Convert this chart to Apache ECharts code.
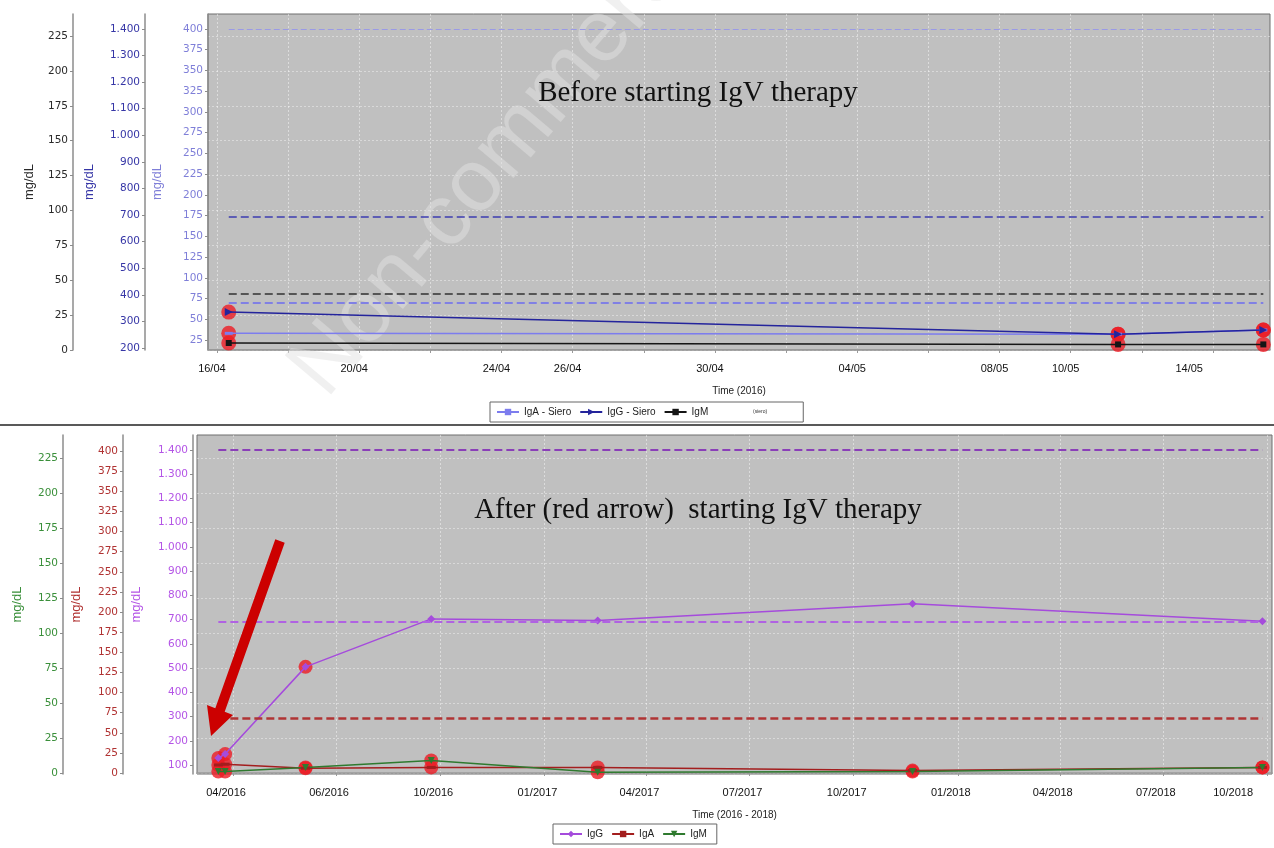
<!DOCTYPE html>
<html>
<head>
<meta charset="utf-8">
<title>IgV therapy</title>
<script src="https://cdn.jsdelivr.net/npm/echarts@6/dist/echarts.min.js"></script>
<style>
  html, body { margin: 0; padding: 0; background: #fff; }
  #chart { width: 1274px; height: 848px; }
</style>
</head>
<body>
<div id="chart"></div>
<script>
// ---- pannello alto: prima della terapia IgV (2016) ----
const beforeDates = ['2016-04-16 08:00', '2016-05-11 08:00', '2016-05-15 10:00'];
const beforeIgA = [33, 32, 37];
const beforeIgG = [335, 252, 268];
const beforeIgM = [5, 4, 4];
const beforeFlags = [1, 1, 1];          // cerchi rossi = fuori range

// linee di riferimento (tratteggiate)
const beforeRefIgA = [70, 400];
const beforeRefIgG = [693];
const beforeRefIgM = [40];

const beforeTickDates = ['2016-04-16', '2016-04-18', '2016-04-20', '2016-04-22', '2016-04-24', '2016-04-26',
  '2016-04-28', '2016-04-30', '2016-05-02', '2016-05-04', '2016-05-06', '2016-05-08', '2016-05-10',
  '2016-05-12', '2016-05-14'];
const beforeLabelDates = ['2016-04-16', '2016-04-20', '2016-04-24', '2016-04-26', '2016-04-30',
  '2016-05-04', '2016-05-08', '2016-05-10', '2016-05-14'];
const beforeIgMTicks = [0, 25, 50, 75, 100, 125, 150, 175, 200, 225];
const beforeIgGTicks = [200, 300, 400, 500, 600, 700, 800, 900, 1000, 1100, 1200, 1300, 1400];
const beforeIgATicks = [25, 50, 75, 100, 125, 150, 175, 200, 225, 250, 275, 300, 325, 350, 375, 400];

// ---- pannello basso: dopo la terapia IgV (2016 - 2018) ----
const afterDates = ['2016-03-19', '2016-03-25', '2016-06-04', '2016-09-23', '2017-02-17', '2017-11-22', '2018-09-27'];
const afterIgG = [129, 145, 505, 703, 696, 765, 693];
const afterIgA = [10, 11, 6, 7, 7, 3, 7];
const afterIgM = [1, 1, 4, 9, 0.5, 1, 4];
const afterIgGFlags = [1, 1, 1, 0, 0, 0, 0];
const afterIgAFlags = [1, 1, 1, 1, 1, 1, 1];
const afterIgMFlags = [1, 1, 1, 1, 1, 1, 1];

const afterRefIgG = [693, 1400];
const afterRefIgA = [68];

const afterTickDates = ['2016-04-01', '2016-07-01', '2016-10-01', '2017-01-01', '2017-04-01', '2017-07-01',
  '2017-10-01', '2018-01-01', '2018-04-01', '2018-07-01', '2018-10-01'];
const afterTickLabels = ['04/2016', '06/2016', '10/2016', '01/2017', '04/2017', '07/2017',
  '10/2017', '01/2018', '04/2018', '07/2018', '10/2018'];
const afterIgMTicks = [0, 25, 50, 75, 100, 125, 150, 175, 200, 225];
const afterIgATicks = [0, 25, 50, 75, 100, 125, 150, 175, 200, 225, 250, 275, 300, 325, 350, 375, 400];
const afterIgGTicks = [100, 200, 300, 400, 500, 600, 700, 800, 900, 1000, 1100, 1200, 1300, 1400];

const FONT = 'Liberation Sans';
const TICK_FONT = 'DejaVu Sans';
const FLAG_RED = '#ec1c24';

// data locale 'YYYY-MM-DD HH:mm' -> timestamp
function ts(s) {
  const [d, t] = s.split(' ');
  const [y, m, dd] = d.split('-').map(Number);
  const [hh, mm] = (t || '00:00').split(':').map(Number);
  return new Date(y, m - 1, dd, hh, mm).getTime();
}
function pairs(dates, vals) {
  return dates.map((d, i) => [ts(d), vals[i]]);
}
function flagged(dates, vals, flags) {
  return pairs(dates, vals).filter((p, i) => flags[i]);
}
// 1400 -> "1.400"
function dotThousands(v) {
  return v >= 1000 ? String(v).replace(/(\d)(\d{3})$/, '$1.$2') : String(v);
}
function pad(n) { return String(n).padStart(2, '0'); }

const afterLabelMap = {};
afterTickDates.forEach((d, i) => { afterLabelMap[ts(d)] = afterTickLabels[i]; });

function yAxis(grid, min, max, ticks, color, offset, nameGap, split) {
  return {
    type: 'value', gridIndex: grid, position: 'left', min, max, offset,
    name: 'mg/dL', nameLocation: 'middle', nameRotate: 90, nameGap,
    nameTextStyle: { color, fontSize: 13, fontFamily: FONT },
    axisLine: { show: true, lineStyle: { color: '#8c8c8c', width: 1.5 } },
    axisTick: { show: true, length: 3, customValues: ticks, lineStyle: { color: '#8c8c8c' } },
    axisLabel: { customValues: ticks, color, fontSize: 10.5, margin: 5, fontFamily: TICK_FONT, formatter: dotThousands },
    splitLine: split
      ? { show: true, lineStyle: { color: 'rgba(255,255,255,0.4)', type: [2, 2], width: 1 } }
      : { show: false }
  };
}

// asse x numerico (timestamp), etichette personalizzate
function xAxis(grid, min, max, tickVals, labelVals, formatter, name, shift) {
  return {
    type: 'value', gridIndex: grid, position: 'bottom', min, max, offset: 3,
    name, nameLocation: 'middle', nameGap: 33,
    nameTextStyle: { color: '#222', fontSize: 10, fontFamily: FONT },
    axisLine: { show: true, lineStyle: { color: '#9a9a9a', width: 1.5 } },
    axisTick: { show: true, length: 3, customValues: tickVals, lineStyle: { color: '#9a9a9a' } },
    axisLabel: { customValues: labelVals, color: '#111', fontSize: 11, margin: 10, fontFamily: FONT,
      padding: [0, shift, 0, 0], alignMaxLabel: 'right', formatter },
    splitLine: { show: true, lineStyle: { color: 'rgba(255,255,255,0.45)', type: [2, 2], width: 1 } }
  };
}

function refLines(dates, refs, style) {
  const x0 = ts(dates[0]), x1 = ts(dates[dates.length - 1]);
  return {
    symbol: 'none', silent: true, animation: false,
    label: { show: false },
    lineStyle: style,
    data: refs.map(v => [{ coord: [x0, v] }, { coord: [x1, v] }])
  };
}

function flagSeries(x, y, data, size) {
  return {
    type: 'scatter', xAxisIndex: x, yAxisIndex: y, data, symbol: 'circle', symbolSize: size,
    itemStyle: { color: FLAG_RED }, z: 1, silent: true
  };
}

function line(name, x, y, data, color, symbol, size, rotate) {
  return {
    name, type: 'line', xAxisIndex: x, yAxisIndex: y, data,
    symbol, symbolSize: size, symbolRotate: rotate || 0, showSymbol: true,
    lineStyle: { color, width: 1.5 }, itemStyle: { color }, z: 3
  };
}

const chart = echarts.init(document.getElementById('chart'));

const beforeIgASeries = line('IgA - Siero', 0, 2, pairs(beforeDates, beforeIgA), '#7c7cee', 'rect', [8, 3]);
beforeIgASeries.markLine = refLines(beforeDates, beforeRefIgA, { color: '#8080e4', type: [8, 4], width: 2 });
beforeIgASeries.markLine.data[1][0].lineStyle = { color: '#9a9ae6', type: [6, 3], width: 1.2 };

const beforeIgGSeries = line('IgG - Siero', 0, 1, pairs(beforeDates, beforeIgG), '#24249c', 'triangle', 8, -90);
beforeIgGSeries.markLine = refLines(beforeDates, beforeRefIgG, { color: '#3c3cb0', type: [8, 4], width: 1.5 });

const beforeIgMSeries = line('IgM', 0, 0, pairs(beforeDates, beforeIgM), '#151515', 'rect', 6);
beforeIgMSeries.markLine = refLines(beforeDates, beforeRefIgM, { color: '#555', type: [8, 4], width: 2 });

const afterIgGSeries = line('IgG', 1, 5, pairs(afterDates, afterIgG), '#a54bdc', 'diamond', 8);
afterIgGSeries.markLine = refLines(afterDates, afterRefIgG, { color: '#b062e2', type: [8, 4], width: 2 });
afterIgGSeries.markLine.data[1][0].lineStyle = { color: '#8a3fb8', type: [8, 4], width: 2 };

const afterIgASeries = line('IgA', 1, 4, pairs(afterDates, afterIgA), '#a31e1e', 'rect', [9, 3]);
afterIgASeries.markLine = refLines(afterDates, afterRefIgA, { color: '#b03434', type: [8, 4], width: 2.5 });

const afterIgMSeries = line('IgM (2016-2018)', 1, 3, pairs(afterDates, afterIgM), '#2f7a2f', 'triangle', 7, 180);

chart.setOption({
  animation: false,
  textStyle: { fontFamily: FONT },
  grid: [
    { left: 208, right: 4, top: 14, height: 336, show: true, backgroundColor: '#c0c0c0',
      borderColor: '#6e6e6e', borderWidth: 1, outerBoundsMode: 'none' },
    { left: 197, right: 2, top: 435, height: 339, show: true, backgroundColor: '#c0c0c0',
      borderColor: '#6e6e6e', borderWidth: 1, outerBoundsMode: 'none' }
  ],
  xAxis: [
    xAxis(0, ts('2016-04-15 18:00'), ts('2016-05-15 14:30'),
      beforeTickDates.map(d => ts(d)), beforeLabelDates.map(d => ts(d)),
      v => { const d = new Date(v); return pad(d.getDate()) + '/' + pad(d.getMonth() + 1); },
      'Time (2016)', 10),
    xAxis(1, ts('2016-02-29 04:00'), ts('2018-10-05 10:00'),
      afterTickDates.map(d => ts(d)), afterTickDates.map(d => ts(d)),
      v => afterLabelMap[v] || '',
      'Time (2016 - 2018)', 14)
  ],
  yAxis: [
    yAxis(0, 0, 240.8, beforeIgMTicks, '#2a2a2a', 135, 37, true),
    yAxis(0, 192.5, 1456.4, beforeIgGTicks, '#3636a6', 63, 49, false),
    yAxis(0, 12.9, 418.1, beforeIgATicks, '#7f7fd8', 0, 44, false),
    yAxis(1, -0.7, 241.4, afterIgMTicks, '#3a8f3a', 134, 39, true),
    yAxis(1, -1.2, 419.9, afterIgATicks, '#b03232', 74, 40, false),
    yAxis(1, 62.9, 1461.9, afterIgGTicks, '#b455e6', 4, 50, false)
  ],
  legend: [
    { data: ['IgA - Siero', 'IgG - Siero', 'IgM'], left: 490, top: 402, orient: 'horizontal',
      padding: [5, 95, 5, 6], itemWidth: 22, itemHeight: 8, itemGap: 8,
      backgroundColor: '#fff', borderColor: '#666', borderWidth: 1, borderRadius: 0,
      textStyle: { fontSize: 10, color: '#222', fontFamily: FONT } },
    { data: ['IgG', 'IgA', 'IgM (2016-2018)'], left: 553, top: 824, orient: 'horizontal',
      padding: [5, 10, 5, 6], itemWidth: 22, itemHeight: 8, itemGap: 8,
      backgroundColor: '#fff', borderColor: '#666', borderWidth: 1, borderRadius: 0,
      formatter: n => n.replace(/ \(.*\)$/, ''),
      textStyle: { fontSize: 10, color: '#222', fontFamily: FONT } }
  ],
  graphic: [
    { type: 'text', x: 308, y: 384, rotation: 0.87, z: 1, silent: true,
      style: { text: 'Non-commercial use only', font: '88px "Liberation Sans"',
        fill: 'rgba(225,225,225,0.5)', align: 'left', verticalAlign: 'middle' } },
    { type: 'line', z: 5, shape: { x1: 0, y1: 425, x2: 1274, y2: 425 },
      style: { stroke: '#222', lineWidth: 1.5 } },
    { type: 'text', x: 698, y: 93, z: 5,
      style: { text: 'Before starting IgV therapy', font: '29px "Liberation Serif"', fill: '#111',
        align: 'center', verticalAlign: 'middle' } },
    { type: 'text', x: 698, y: 510, z: 5,
      style: { text: 'After (red arrow)  starting IgV therapy', font: '29px "Liberation Serif"', fill: '#111',
        align: 'center', verticalAlign: 'middle' } },
    { type: 'text', x: 753, y: 412, z: 5,
      style: { text: '(siero)', font: '5px "Liberation Sans"', fill: '#333', align: 'left', verticalAlign: 'middle' } },
    { type: 'polygon', z: 10, silent: true,
      shape: { points: [[275.3, 539.3], [284.7, 542.7], [224.7, 711.7], [233, 715], [211, 736], [207, 705], [215.3, 708.3]] },
      style: { fill: '#cc0000' } }
  ],
  series: [
    flagSeries(0, 2, flagged(beforeDates, beforeIgA, beforeFlags), 15),
    flagSeries(0, 1, flagged(beforeDates, beforeIgG, beforeFlags), 15),
    flagSeries(0, 0, flagged(beforeDates, beforeIgM, beforeFlags), 15),
    flagSeries(1, 5, flagged(afterDates, afterIgG, afterIgGFlags), 14),
    flagSeries(1, 4, flagged(afterDates, afterIgA, afterIgAFlags), 14),
    flagSeries(1, 3, flagged(afterDates, afterIgM, afterIgMFlags), 14),
    beforeIgASeries,
    beforeIgGSeries,
    beforeIgMSeries,
    afterIgGSeries,
    afterIgASeries,
    afterIgMSeries
  ]
});
</script>
</body>
</html>
